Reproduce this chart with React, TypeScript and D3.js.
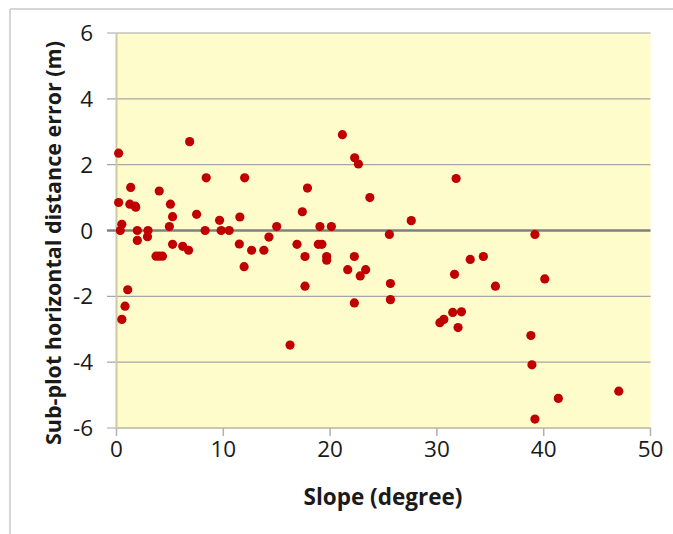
import React from "react";
import * as d3 from "d3";

const slopeDeg: number[] = [
  0.2, 0.2, 0.35, 0.5, 0.5, 0.8, 1.05, 1.33, 1.25, 1.8, 1.75, 1.95, 1.95, 2.95, 2.9,
  3.7, 4.0, 4.3, 4.0, 5.05, 4.95, 5.25, 5.25, 6.2, 6.75, 6.85, 7.5, 8.3, 8.4, 9.65,
  9.8, 10.55, 11.55, 11.5, 12.0, 11.95, 12.65, 13.8, 14.27, 15.0, 16.25, 16.9, 17.4,
  17.65, 17.65, 17.88, 18.9, 19.23, 19.05, 19.68, 19.68, 20.12, 21.15, 21.65, 22.3,
  22.27, 22.27, 22.65, 22.82, 23.33, 23.72, 25.55, 25.65, 25.65, 27.6, 30.28, 30.65,
  31.48, 31.65, 31.8, 31.98, 32.3, 33.12, 34.35, 35.48, 38.8, 38.9, 39.18, 39.18,
  40.1, 41.37, 47.03,
];
const errorM: number[] = [
  2.35, 0.85, 0.0, 0.19, -2.7, -2.3, -1.8, 1.31, 0.8, 0.71, 0.74, 0.0, -0.3, 0.0, -0.19,
  -0.78, -0.78, -0.78, 1.2, 0.8, 0.12, 0.42, -0.42, -0.48, -0.6, 2.7, 0.49, 0.0, 1.6, 0.31,
  0.0, 0.0, 0.41, -0.41, 1.6, -1.1, -0.6, -0.6, -0.2, 0.12, -3.48, -0.42, 0.57,
  -0.79, -1.69, 1.29, -0.42, -0.42, 0.12, -0.79, -0.9, 0.12, 2.91, -1.19, 2.21,
  -0.79, -2.2, 2.02, -1.38, -1.19, 1.0, -0.12, -1.61, -2.1, 0.3, -2.8, -2.7,
  -2.49, -1.33, 1.58, -2.95, -2.47, -0.88, -0.79, -1.69, -3.19, -4.08, -0.12, -5.73,
  -1.47, -5.1, -4.88,
];
const xTicks: number[] = [0, 10, 20, 30, 40, 50];
const yTicks: number[] = [-6, -4, -2, 0, 2, 4, 6];
const xTitle = "Slope (degree)";
const yTitle = "Sub-plot horizontal distance error (m)";

export default function App() {
  const W = 673;
  const H = 534;
  const left = 116.5;
  const right = 650.5;
  const top = 33;
  const bottom = 428;
  const x = d3.scaleLinear().domain([0, 50]).range([left, right]);
  const y = d3.scaleLinear().domain([-6, 6]).range([bottom, top]);
  const font = "'Open Sans', 'Liberation Sans', sans-serif";

  return (
    <svg
      width={W}
      height={H}
      style={{ position: "absolute", left: 0, top: 0, background: "#fff" }}
      fontFamily={font}
    >
      <rect x={0} y={0} width={W} height={H} fill="#fff" />
      {/* chart area border */}
      <line x1={10} y1={9} x2={W} y2={9} stroke="#c8c8c8" strokeWidth={1.5} />
      <line x1={10} y1={9} x2={10} y2={H} stroke="#c8c8c8" strokeWidth={1.5} />
      {/* plot area */}
      <rect x={left} y={top} width={right - left} height={bottom - top} fill="#fffccc" />
      {/* gridlines (extend into tick marks) */}
      {yTicks.map((t) => (
        <line
          key={"g" + t}
          x1={107}
          x2={right}
          y1={y(t)}
          y2={y(t)}
          stroke={t === 0 ? "#808080" : "#a6a6a6"}
          strokeWidth={t === 0 ? 2.5 : 1.2}
        />
      ))}
      {/* axes lines */}
      <line x1={left} x2={left} y1={top} y2={bottom} stroke="#ccc9a8" strokeWidth={2} />
      <line x1={left} x2={right} y1={bottom} y2={bottom} stroke="#ccc9a8" strokeWidth={2} />
      {xTicks.map((t) => (
        <line
          key={"xt" + t}
          x1={x(t)}
          x2={x(t)}
          y1={bottom}
          y2={bottom + 8}
          stroke="#b0b0b0"
          strokeWidth={1.5}
        />
      ))}
      {/* tick labels */}
      {yTicks.map((t) => (
        <text
          key={"yl" + t}
          x={93}
          y={y(t)}
          dy="0.36em"
          textAnchor="end"
          fontSize={22.5}
          fill="#1a1a1a"
        >
          {t}
        </text>
      ))}
      {xTicks.map((t) => (
        <text
          key={"xl" + t}
          x={x(t)}
          y={457}
          textAnchor="middle"
          fontSize={22.5}
          fill="#1a1a1a"
        >
          {t}
        </text>
      ))}
      {/* titles */}
      <text
        x={383}
        y={505}
        textAnchor="middle"
        fontSize={23}
        fontWeight="bold"
        fill="#1a1a1a"
        textLength={159}
        lengthAdjust="spacingAndGlyphs"
      >
        {xTitle}
      </text>
      <text
        transform={`translate(61,243) rotate(-90)`}
        textAnchor="middle"
        fontSize={22}
        fontWeight="bold"
        fill="#1a1a1a"
        textLength={404}
        lengthAdjust="spacingAndGlyphs"
      >
        {yTitle}
      </text>
      {/* points */}
      {slopeDeg.map((s, i) => (
        <circle key={"p" + i} cx={x(s)} cy={y(errorM[i])} r={4.6} fill="#c00000" />
      ))}
    </svg>
  );
}
